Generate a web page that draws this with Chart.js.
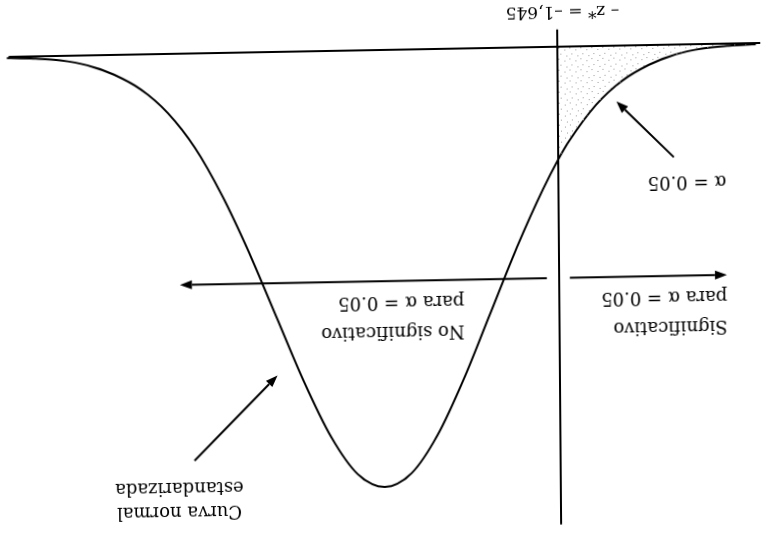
<!DOCTYPE html>
<html lang="es">
<head>
<meta charset="UTF-8">
<title>Curva normal estandarizada</title>
<script src="https://cdn.jsdelivr.net/npm/chart.js"></script>
<style>
    html, body { margin: 0; padding: 0; background: #fff; overflow: hidden; }
    /* the scanned figure is upside down and slightly skewed */
    #chart { display: block; transform: matrix(-1, 0.0185, -0.008, -1, 0, 0); }
</style>
</head>
<body>
<canvas id="chart" width="762" height="533"></canvas>
<script>
// values (z, height of the density)
const zValues = [-3.5, -3.25, -3, -2.75, -2.5, -2.25, -2, -1.75, -1.645, -1.5, -1.25, -1, -0.75, -0.5, -0.25, 0,
                 0.25, 0.5, 0.75, 1, 1.25, 1.5, 1.75, 2, 2.25, 2.5, 2.75, 3, 3.25, 3.5];
const density = [0.001, 0.002, 0.004, 0.009, 0.018, 0.032, 0.054, 0.086, 0.103, 0.130, 0.183, 0.242, 0.301, 0.352, 0.387, 0.399,
                 0.387, 0.352, 0.301, 0.242, 0.183, 0.130, 0.086, 0.054, 0.032, 0.018, 0.009, 0.004, 0.002, 0.001];
const criticalZ = -1.645;
const criticalLabel = '– z* = –1,645';
const regionLabels = ['Significativo', 'para α = 0.05', 'No significativo', 'para α = 0.05'];
const alphaLabel = 'α = 0.05';
const curveLabel = ['Curva normal', 'estandarizada'];

const curvePoints = zValues.map((z, i) => ({ x: z, y: density[i] }));
const tailPoints = curvePoints.filter(p => p.x <= criticalZ);

// where the notes sit, in chart units
const notes = [
    { text: regionLabels[0], x: -3.215, y: 0.2571, align: 'left' },
    { text: regionLabels[1], x: -3.215, y: 0.2297, align: 'left' },
    { text: regionLabels[2], x: -0.757, y: 0.2571, align: 'left' },
    { text: regionLabels[3], x: -0.757, y: 0.2297, align: 'left' },
    { text: alphaLabel, x: -3.215, y: 0.1245, align: 'left' },
    { text: curveLabel[0], x: 1.92, y: 0.4177, align: 'center' },
    { text: curveLabel[1], x: 1.92, y: 0.3957, align: 'center' },
    { text: criticalLabel, x: -1.696, y: -0.0326, align: 'center', size: 17 }
];
const arrows = [
    { from: [-1.53, 0.2111], to: [1.90, 0.2111] },
    { from: [-1.745, 0.2111], to: [-3.214, 0.2111] },
    { from: [-2.726, 0.1028], to: [-2.193, 0.0509] },
    { from: [1.776, 0.3718], to: [0.994, 0.2953] }
];

const canvas = document.getElementById('chart');
const ctx = canvas.getContext('2d');

// sparse dotted screen for the rejection tail
function stipple() {
    const c = document.createElement('canvas');
    c.width = 11; c.height = 11;
    const g = c.getContext('2d');
    g.fillStyle = '#9a9a9a';
    [[1, 2], [6, 0], [8, 6], [3, 8]].forEach(([a, b]) => g.fillRect(a, b, 1, 1));
    return ctx.createPattern(c, 'repeat');
}

const overlay = {
    id: 'overlay',
    afterDatasetsDraw(chart) {
        const c = chart.ctx;
        const xs = chart.scales.x, ys = chart.scales.y;
        c.save();
        c.fillStyle = '#000';
        c.strokeStyle = '#000';
        arrows.forEach(a => {
            const x0 = xs.getPixelForValue(a.from[0]), y0 = ys.getPixelForValue(a.from[1]);
            const x1 = xs.getPixelForValue(a.to[0]), y1 = ys.getPixelForValue(a.to[1]);
            const ang = Math.atan2(y1 - y0, x1 - x0);
            const len = 12, half = 4.5;
            const bx = x1 - len * Math.cos(ang), by = y1 - len * Math.sin(ang);
            c.lineWidth = 2;
            c.beginPath();
            c.moveTo(x0, y0);
            c.lineTo(bx, by);
            c.stroke();
            c.beginPath();
            c.moveTo(x1, y1);
            c.lineTo(bx + half * Math.sin(ang), by - half * Math.cos(ang));
            c.lineTo(bx - half * Math.sin(ang), by + half * Math.cos(ang));
            c.closePath();
            c.fill();
        });
        c.textBaseline = 'middle';
        notes.forEach(n => {
            c.font = (n.size || 18) + 'px "DejaVu Serif", serif';
            c.textAlign = n.align;
            c.fillText(n.text, xs.getPixelForValue(n.x), ys.getPixelForValue(n.y));
        });
        c.restore();
    }
};

new Chart(ctx, {
    type: 'line',
    data: {
        datasets: [
            {
                data: tailPoints,
                fill: 'origin',
                backgroundColor: stipple(),
                borderWidth: 0,
                pointRadius: 0,
                cubicInterpolationMode: 'monotone'
            },
            {
                data: curvePoints,
                borderColor: '#000',
                borderWidth: 2,
                pointRadius: 0,
                fill: false,
                cubicInterpolationMode: 'monotone'
            },
            {
                data: [{ x: -3.6, y: 0 }, { x: 3.483, y: 0 }],
                borderColor: '#000',
                borderWidth: 2,
                pointRadius: 0,
                fill: false
            },
            {
                data: [{ x: criticalZ, y: -0.0157 }, { x: criticalZ, y: 0.4363 }],
                borderColor: '#000',
                borderWidth: 2,
                pointRadius: 0,
                fill: false
            }
        ]
    },
    options: {
        responsive: false,
        animation: false,
        layout: { padding: 0 },
        plugins: { legend: { display: false }, tooltip: { enabled: false } },
        scales: {
            x: { type: 'linear', min: -3.542, max: 3.579, display: false },
            y: { min: -0.0457, max: 0.441, display: false }
        }
    },
    plugins: [overlay]
});
</script>
</body>
</html>
